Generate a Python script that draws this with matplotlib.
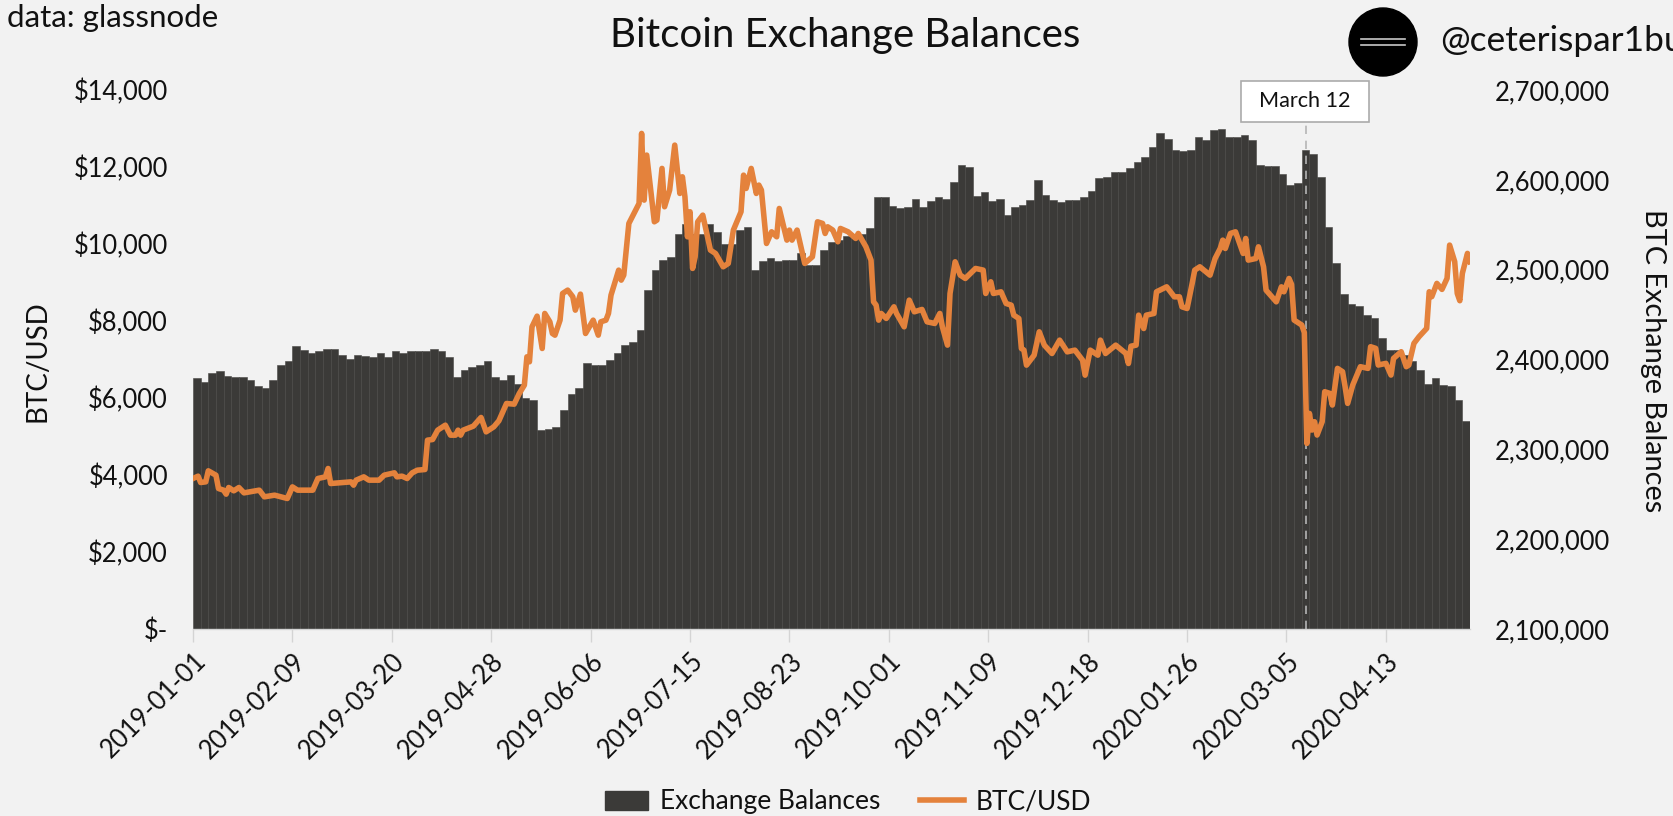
import numpy as np
import matplotlib
matplotlib.use('Agg')
import matplotlib.pyplot as plt
from matplotlib.patches import Ellipse, Rectangle
from matplotlib.lines import Line2D

W, H = 1674, 816
BG = '#f2f2f2'
BAR = '#3b3a38'
ORANGE = '#e4823c'

# exchange balance, thousands of BTC, one value per 3 days from 2019-01-01
balance_k = [
    2379, 2375, 2385, 2387, 2382, 2381, 2381, 2377, 2370, 2368, 2377, 2394, 2398, 2415, 2411, 2407, 2409, 2412, 2412, 2405,
    2401, 2405, 2404, 2403, 2407, 2403, 2410, 2407, 2409, 2409, 2409, 2412, 2409, 2403, 2381, 2388, 2392, 2394, 2398, 2381,
    2377, 2383, 2373, 2357, 2355, 2321, 2323, 2325, 2344, 2362, 2368, 2396, 2394, 2394, 2399, 2407, 2416, 2420, 2433, 2477,
    2500, 2511, 2514, 2540, 2551, 2540, 2540, 2551, 2542, 2529, 2529, 2544, 2548, 2500, 2510, 2513, 2510, 2511, 2511, 2518,
    2505, 2505, 2522, 2531, 2533, 2537, 2537, 2540, 2546, 2581, 2581, 2571, 2569, 2570, 2579, 2570, 2576, 2581, 2579, 2598,
    2616, 2614, 2582, 2587, 2576, 2579, 2561, 2570, 2572, 2578, 2600, 2583, 2577, 2575, 2577, 2578, 2581, 2588, 2602, 2603,
    2609, 2609, 2613, 2620, 2625, 2636, 2652, 2646, 2633, 2632, 2633, 2648, 2644, 2656, 2657, 2648, 2648, 2650, 2644, 2616,
    2615, 2615, 2607, 2594, 2596, 2633, 2629, 2603, 2548, 2507, 2473, 2462, 2459, 2450, 2446, 2424, 2411, 2411, 2405, 2398,
    2388, 2373, 2379, 2372, 2370, 2355, 2331,
]

# BTC/USD turning points
price_days = [
    0, 2, 3, 5, 6, 9, 10, 12, 13, 14, 16, 18, 20, 26, 28, 32, 37, 39, 41, 47, 49, 52, 53, 54, 62, 63, 64, 67, 69, 73,
    75, 79, 80, 82, 84, 86, 88, 91, 92, 94, 96, 99, 101, 103, 104, 105, 106, 110, 113, 115, 118, 120, 123, 126, 128,
    130, 131, 132, 133, 135, 137, 138, 140, 141, 142, 144, 145, 147, 149, 150, 152, 154, 157, 159, 160, 162, 163, 164,
    167, 168, 169, 171, 175, 176, 177, 178, 181, 182, 184, 185, 187, 189, 191, 192, 193, 194, 195, 196, 197, 198, 200,
    203, 205, 208, 210, 212, 215, 216, 217, 219, 221, 222, 223, 225, 227, 229, 230, 233, 234, 235, 237, 240, 243, 245,
    247, 248, 249, 251, 253, 254, 257, 260, 261, 264, 266, 267, 268, 269, 270, 272, 275, 276, 279, 281, 283, 286, 288,
    291, 293, 294, 296, 297, 299, 301, 303, 307, 310, 311, 313, 314, 317, 319, 321, 322, 324, 325, 326, 327, 330, 332,
    334, 337, 340, 343, 346, 349, 350, 352, 355, 356, 358, 362, 366, 367, 368, 370, 371, 373, 374, 377, 378, 382, 385,
    387, 388, 390, 392, 393, 395, 399, 401, 403, 404, 405, 407, 409, 412, 413, 414, 417, 418, 420, 421, 425, 427, 428,
    430, 431, 432, 435, 436, 437, 438, 439, 440, 441, 443, 444, 446, 447, 449, 451, 452, 453, 455, 458, 461, 462, 464,
    465, 468, 470, 471, 474, 476, 477, 479, 481, 484, 485, 486, 488, 490, 492, 493, 495, 496, 497, 498, 500, 501,
]
price_values = [
    3909, 3970, 3805, 3822, 4108, 3995, 3649, 3606, 3502, 3675, 3589, 3675, 3536, 3606, 3433, 3476, 3390, 3692, 3606, 3606,
    3909, 3952, 4169, 3779, 3822, 3736, 3866, 3952, 3866, 3866, 3996, 4056, 3952, 3970, 3909, 4056, 4125, 4143, 4905, 4922,
    5165, 5295, 5035, 5035, 5165, 5035, 5165, 5269, 5494, 5121, 5251, 5407, 5857, 5840, 6117, 6334, 7070, 6940, 7849, 8126,
    7286, 8196, 7979, 7676, 7632, 8022, 8715, 8802, 8629, 8282, 8698, 7676, 8022, 7632, 7979, 8022, 8196, 8672, 9321, 9062,
    9192, 10534, 11053, 12872, 11140, 12309, 10577, 10620, 11963, 10967, 11400, 12569, 11313, 11746, 11227, 10187, 10837,
    9365, 9668, 10577, 10750, 9841, 9754, 9408, 9495, 10361, 10837, 11789, 11443, 11963, 11313, 11530, 11400, 10014, 10317,
    10187, 10923, 10101, 10361, 10101, 10361, 9495, 9668, 10577, 10534, 10274, 10447, 10361, 10058, 10404, 10317, 10144,
    10274, 9928, 9581, 8499, 8412, 8022, 8196, 8066, 8369, 8196, 7849, 8542, 8239, 8300, 7979, 7936, 8196, 7849, 7373, 8715,
    9538, 9192, 9105, 9365, 9322, 8715, 9018, 8715, 8758, 8455, 8412, 8152, 8065, 7286, 7243, 6853, 7113, 7719, 7373, 7156,
    7503, 7199, 7243, 6983, 6593, 7243, 7113, 7503, 7156, 7373, 7156, 6896, 7346, 7373, 8152, 7805, 8152, 8195, 8758, 8888,
    8628, 8628, 8368, 8325, 8975, 9321, 9408, 9191, 9624, 9884, 10100, 9884, 10274, 10317, 9754, 10144, 9581, 9624, 9927,
    9408, 8801, 8498, 8888, 8758, 9104, 8950, 8024, 7895, 7700, 4821, 5600, 5168, 5384, 5038, 5384, 6163, 6120, 5817, 6769,
    6683, 6293, 5860, 6336, 6813, 6769, 7332, 7289, 6856, 6899, 6596, 7029, 7202, 6813, 6856, 7419, 7592, 7808, 8760, 8631,
    8977, 8821, 9107, 9972, 9540, 8717, 8527, 9237, 9756, 9540,
]

date_ticks = [0, 39, 78, 117, 156, 195, 234, 273, 312, 351, 390, 429, 468]
date_labels = ['2019-01-01', '2019-02-09', '2019-03-20', '2019-04-28', '2019-06-06', '2019-07-15', '2019-08-23',
               '2019-10-01', '2019-11-09', '2019-12-18', '2020-01-26', '2020-03-05', '2020-04-13']
price_ticks = [0, 2000, 4000, 6000, 8000, 10000, 12000, 14000]
price_labels = ['$-', '$2,000', '$4,000', '$6,000', '$8,000', '$10,000', '$12,000', '$14,000']
balance_ticks = [2100, 2200, 2300, 2400, 2500, 2600, 2700]
balance_labels = ['2,100,000', '2,200,000', '2,300,000', '2,400,000', '2,500,000', '2,600,000', '2,700,000']
march_12 = 436

plt.rcParams['font.family'] = ['Lato', 'DejaVu Sans']
plt.rcParams['text.color'] = '#111111'


def fx(px):
    return px / W


def fy(px):
    return 1 - px / H


fig = plt.figure(figsize=(W / 100, H / 100), dpi=100, facecolor=BG)
ax = fig.add_axes([fx(193), fy(629), fx(1470 - 193), (629 - 90) / H])
ax2 = ax.twinx()
ax.set_zorder(ax2.get_zorder() + 1)
ax.patch.set_visible(False)
ax2.patch.set_facecolor(BG)

bal_days = np.arange(len(balance_k)) * 3
ax2.bar(bal_days, balance_k, width=3, align='edge', color=BAR, edgecolor='#474644', linewidth=0.4)
ax2.set_ylim(2100, 2700)
ax2.set_yticks(balance_ticks)
ax2.set_yticklabels(balance_labels)

ax.plot([march_12 + 0.5] * 2, [0, 14000 * (629 - 122) / 539], color='#b5b5b5', lw=1.2, dashes=(5, 4))
ax.plot(price_days, price_values, color=ORANGE, lw=4.0, solid_joinstyle='round')
ax.set_xlim(0, 501)
ax.set_ylim(0, 14000)
ax.set_yticks(price_ticks)
ax.set_yticklabels(price_labels)
ax.set_xticks(date_ticks)
ax.set_xticklabels(date_labels, rotation=45, ha='right', rotation_mode='anchor')

for a in (ax, ax2):
    for s in a.spines.values():
        s.set_visible(False)
    a.tick_params(axis='y', length=0, labelsize=18.4, labelcolor='#111111', pad=18)
ax.spines['bottom'].set_visible(True)
ax.spines['bottom'].set_color('#d4d4d4')
ax.spines['bottom'].set_linewidth(1)
ax.tick_params(axis='x', length=9, width=1, color='#d4d4d4', labelsize=18.4, labelcolor='#111111', pad=5)

fig.text(fx(845), fy(36), 'Bitcoin Exchange Balances', ha='center', va='center', fontsize=29)
fig.text(fx(7), fy(18), 'data: glassnode', ha='left', va='center', fontsize=22.5)
fig.text(fx(1440), fy(41), '@ceterispar1bus', ha='left', va='center', fontsize=25.5)
fig.text(fx(38), fy(361), 'BTC/USD', rotation=90, ha='center', va='center', fontsize=20)
fig.text(fx(1653), fy(361), 'BTC Exchange Balances', rotation=270, ha='center', va='center', fontsize=20.8)

# logo circle
fig.add_artist(Ellipse((fx(1383), fy(42)), 68 / W, 68 / H, color='black', transform=fig.transFigure))
for ly in (39, 45):
    fig.add_artist(Line2D([fx(1361), fx(1405)], [fy(ly), fy(ly)], color='#c8c8c8', lw=1.2))

# March 12 callout
fig.add_artist(Rectangle((fx(1241), fy(122)), 128 / W, 41 / H, facecolor='white', edgecolor='#ababab', lw=1.2,
                         transform=fig.transFigure))
fig.text(fx(1305), fy(101), 'March 12', ha='center', va='center', fontsize=15.6)

handles = [Rectangle((0, 0), 1, 1, color=BAR), Line2D([0], [0], color=ORANGE, lw=4.0)]
fig.legend(handles, ['Exchange Balances', 'BTC/USD'], loc='center', bbox_to_anchor=(fx(848), fy(802)), ncol=2,
           frameon=False, fontsize=19, handlelength=1.65, handleheight=0.7, columnspacing=1.5, handletextpad=0.45)

fig.savefig('out.png', dpi=100, facecolor=BG)
